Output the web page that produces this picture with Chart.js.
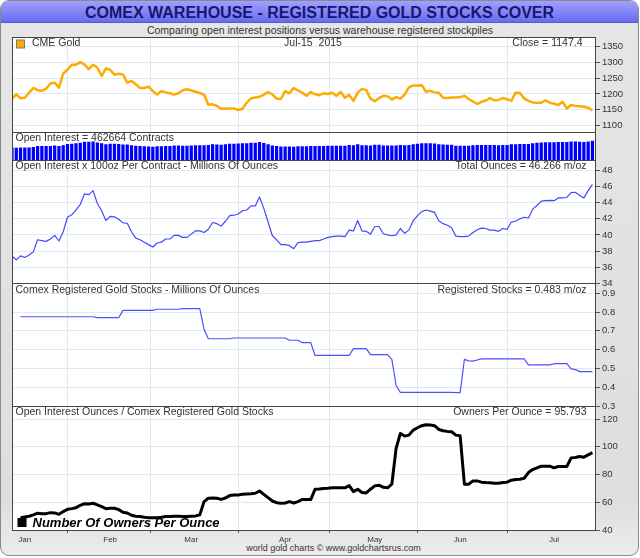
<!DOCTYPE html>
<html>
<head>
<meta charset="utf-8">
<script src="https://cdn.jsdelivr.net/npm/chart.js@4.4.1/dist/chart.umd.min.js"></script>
<style>
  body { margin: 0; background: #fff; font-family: "Liberation Sans", Arial, sans-serif; }
  #frame {
    position: absolute; left: 0; top: 0; width: 637px; height: 554px;
    border: 1px solid #8a8a8a; border-radius: 9px; overflow: hidden;
    background: linear-gradient(#e6e6e6, #dedede 90%, #ececec);
  }
  #title {
    position: absolute; left: 0; top: 0; width: 100%; height: 21px;
    background: linear-gradient(#a0a0ff, #6a6af2);
    border-bottom: 1px solid #5a5acc;
    color: #17176c; font-weight: bold; font-size: 16px; line-height: 23px; text-align: center;
  }
  #subtitle {
    position: absolute; left: 0; top: 24px; width: 640px; text-align: center;
    font-size: 10.5px; line-height: 12px; color: #333;
  }
  #footer {
    position: absolute; left: 0; top: 542px; width: 667px; text-align: center;
    font-size: 9px; line-height: 12px; color: #333;
  }
  canvas { position: absolute; left: 0; top: 0; }
</style>
</head>
<body>
<div id="frame"><div id="title">COMEX WAREHOUSE - REGISTERED GOLD STOCKS COVER</div></div>
<div id="subtitle">Comparing open interest positions versus warehouse registered stockpiles</div>
<div id="footer">world gold charts © www.goldchartsrus.com</div>
<canvas id="myChart" width="640" height="558"></canvas>
<script>
// trading sessions, Dec 29 2014 - Jul 15 2015
const sessions = [
  ['Dec', [29, 30, 31]],
  ['Jan', [2, 5, 6, 7, 8, 9, 12, 13, 14, 15, 16, 20, 21, 22, 23, 26, 27, 28, 29, 30]],
  ['Feb', [2, 3, 4, 5, 6, 9, 10, 11, 12, 13, 17, 18, 19, 20, 23, 24, 25, 26, 27]],
  ['Mar', [2, 3, 4, 5, 6, 9, 10, 11, 12, 13, 16, 17, 18, 19, 20, 23, 24, 25, 26, 27, 30, 31]],
  ['Apr', [1, 2, 6, 7, 8, 9, 10, 13, 14, 15, 16, 17, 20, 21, 22, 23, 24, 27, 28, 29, 30]],
  ['May', [1, 4, 5, 6, 7, 8, 11, 12, 13, 14, 15, 18, 19, 20, 21, 22, 26, 27, 28, 29]],
  ['Jun', [1, 2, 3, 4, 5, 8, 9, 10, 11, 12, 15, 16, 17, 18, 19, 22, 23, 24, 25, 26, 29, 30]],
  ['Jul', [1, 2, 6, 7, 8, 9, 10, 13, 14, 15]]
];
const tickMonths = ['Jan', 'Feb', 'Mar', 'Apr', 'May', 'Jun', 'Jul'];

const goldClose = [
  1185, 1199, 1186, 1188, 1204, 1219, 1212, 1210, 1217, 1233,
  1236, 1220, 1265, 1277, 1293, 1293, 1301, 1293, 1279, 1293,
  1284, 1257, 1281, 1277, 1261, 1264, 1262, 1236, 1241, 1231,
  1219, 1219, 1223, 1209, 1198, 1209, 1205, 1202, 1198, 1202,
  1212, 1215, 1211, 1207, 1203, 1198, 1166, 1167, 1162, 1153,
  1153, 1154, 1154, 1149, 1153, 1172, 1186, 1189, 1191, 1198,
  1206, 1199, 1185, 1184, 1209, 1202, 1219, 1211, 1204, 1194,
  1206, 1199, 1196, 1202, 1200, 1204, 1194, 1206, 1188, 1197,
  1178, 1204, 1216, 1212, 1185, 1177, 1187, 1194, 1193, 1182,
  1190, 1185, 1198, 1221, 1227, 1227, 1228, 1207, 1210, 1205,
  1204, 1188, 1187, 1189, 1189, 1190, 1194, 1184, 1176, 1168,
  1175, 1179, 1187, 1180, 1181, 1187, 1183, 1178, 1204, 1203,
  1186, 1178, 1173, 1172, 1172, 1180, 1172, 1169, 1165, 1175,
  1154, 1165, 1162, 1161, 1159, 1156, 1147.4
];

// open interest x 100oz, millions of ounces (also drives the OI bars)
const totalOunces = [
  37.4, 36.9, 37.4, 37.2, 37.5, 37.9, 39.4, 39.3, 39.2, 39.5,
  39.95, 39.25, 40.4, 42.2, 42.5, 43.1, 43.8, 45.1, 45.0, 45.5,
  43.9, 43.0, 41.8, 42.3, 42.25, 41.95, 41.5, 41.45, 40.4, 39.6,
  39.4, 39.1, 38.8, 38.5, 39.0, 39.1, 39.5, 39.5, 39.95, 39.95,
  39.7, 39.7, 40.1, 40.5, 40.5, 40.3, 40.7, 41.55, 41.4, 41.1,
  41.7, 42.4, 42.45, 42.6, 43.0, 43.1, 43.6, 43.6, 44.7, 43.3,
  41.6, 39.9, 39.4, 38.8, 38.8, 38.7, 38.3, 39.05, 39.1, 39.1,
  39.2, 39.3, 39.3, 39.5, 39.7, 39.8, 39.85, 39.85, 39.8, 40.6,
  40.5, 41.8, 40.5, 40.45, 40.1, 41.05, 41.05, 40.15, 40.0, 39.9,
  40.0, 40.8, 40.2, 40.6, 41.75, 42.4, 42.9, 43.1, 42.95, 42.8,
  41.75, 41.4, 41.2, 40.9, 39.85, 39.8, 39.8, 39.85, 40.3, 40.65,
  40.85, 40.8, 40.6, 40.6, 40.45, 40.8, 40.7, 41.6, 41.7, 42.0,
  42.2, 42.1, 43.2, 43.65, 44.2, 44.25, 44.3, 44.25, 44.6, 44.6,
  44.65, 45.25, 45.3, 44.9, 44.6, 45.5, 46.27
];

const registered = [
  null, null, 0.775, 0.775, 0.775, 0.775, 0.775, 0.775, 0.775, 0.775,
  0.775, 0.775, 0.775, 0.775, 0.775, 0.775, 0.775, 0.775, 0.775, 0.775,
  0.770, 0.770, 0.770, 0.770, 0.770, 0.770, 0.809, 0.809, 0.809, 0.809,
  0.809, 0.809, 0.809, 0.809, 0.815, 0.815, 0.815, 0.815, 0.815, 0.815,
  0.818, 0.818, 0.818, 0.818, 0.818, 0.708, 0.658, 0.658, 0.658, 0.658,
  0.658, 0.658, 0.662, 0.662, 0.662, 0.662, 0.662, 0.662, 0.662, 0.662,
  0.662, 0.662, 0.662, 0.662, 0.662, 0.650, 0.650, 0.650, 0.637, 0.637,
  0.637, 0.569, 0.569, 0.569, 0.569, 0.569, 0.569, 0.569, 0.569, 0.569,
  0.605, 0.605, 0.605, 0.605, 0.573, 0.573, 0.573, 0.573, 0.573, 0.548,
  0.409, 0.372, 0.372, 0.372, 0.372, 0.372, 0.372, 0.372, 0.372, 0.372,
  0.372, 0.372, 0.372, 0.372, 0.371, 0.371, 0.548, 0.540, 0.539, 0.545,
  0.551, 0.551, 0.551, 0.551, 0.551, 0.551, 0.551, 0.551, 0.551, 0.551,
  0.551, 0.519, 0.519, 0.519, 0.519, 0.519, 0.519, 0.525, 0.525, 0.525,
  0.525, 0.498, 0.494, 0.483, 0.483, 0.483, 0.483
];

const ownersPerOunce = [
  null, null, 48.9, 49.4, 49.9, 50.9, 52.1, 51.8, 51.8, 52.5,
  52.3, 51.3, 53.3, 54.9, 55.4, 56.1, 57.8, 59.0, 58.8, 59.3,
  58.1, 56.9, 55.4, 55.7, 55.7, 54.7, 52.8, 52.3, 50.6, 49.9,
  49.7, 49.2, 48.9, 48.9, 48.9, 49.2, 49.7, 49.7, 49.9, 49.9,
  49.7, 49.7, 49.9, 50.1, 50.9, 60.5, 62.9, 63.1, 62.9, 62.1,
  63.1, 64.8, 65.3, 65.3, 65.7, 66.0, 66.2, 66.5, 68.1, 65.7,
  63.3, 60.9, 59.7, 59.3, 59.5, 60.5, 59.5, 60.5, 62.0, 62.0,
  61.9, 69.4, 69.6, 69.9, 70.1, 70.4, 70.4, 70.4, 70.4, 72.0,
  67.7, 69.4, 67.0, 66.7, 69.4, 71.8, 72.3, 70.8, 70.4, 73.0,
  98.8, 109.6, 107.7, 108.4, 112.0, 113.7, 115.2, 115.9, 115.7, 115.2,
  112.5, 111.6, 111.1, 110.8, 108.4, 108.0, 73.0, 73.0, 75.4, 75.4,
  74.5, 74.2, 74.0, 73.7, 73.7, 74.2, 74.5, 75.9, 76.4, 76.6,
  77.3, 81.4, 83.6, 84.8, 86.0, 86.0, 86.0, 84.8, 85.8, 85.8,
  85.8, 92.0, 92.3, 93.0, 92.5, 94.2, 95.79
];

const goldTicks = [1100, 1150, 1200, 1250, 1300, 1350];
const ounceTicks = [34, 36, 38, 40, 42, 44, 46, 48];
const stockTicks = [0.3, 0.4, 0.5, 0.6, 0.7, 0.8, 0.9];
const ownerTicks = [40, 60, 80, 100, 120];

// texts written inside each panel: [left, centre, right]
const panelText = {
  yGold: ['CME Gold', 'Jul-15  2015', 'Close = 1147.4'],
  yOI: ['Open Interest = 462664 Contracts', '', ''],
  yOz: ['Open Interest x 100oz Per Contract - Millions Of Ounces', '', 'Total Ounces = 46.266 m/oz'],
  yReg: ['Comex Registered Gold Stocks - Millions Of Ounces', '', 'Registered Stocks = 0.483 m/oz'],
  yOwn: ['Open Interest Ounces / Comex Registered Gold Stocks', '', 'Owners Per Ounce = 95.793']
};

const labels = sessions.flatMap(([m, days]) => days.map(d => m + ' ' + d));
const monthStarts = tickMonths.map(m => labels.findIndex(l => l.startsWith(m + ' ')));
const pts = arr => arr.map((v, i) => ({ x: i, y: v }));

const FONT = '"Liberation Sans", Arial, sans-serif';
const GRID = '#dceaf6';

const panelsPlugin = {
  id: 'panels',
  beforeDraw(chart) {
    const { ctx, chartArea: a } = chart;
    ctx.save();
    ctx.fillStyle = '#fff';
    ctx.fillRect(a.left, a.top, a.right - a.left, a.bottom - a.top);
    ctx.restore();
  },
  afterDraw(chart) {
    const { ctx, chartArea: a } = chart;
    ctx.save();
    ctx.strokeStyle = '#444';
    ctx.lineWidth = 1;
    Object.keys(panelText).forEach(id => {
      const s = chart.scales[id];
      ctx.strokeRect(Math.round(a.left) + 0.5, Math.round(s.top) + 0.5,
        Math.round(a.right - a.left), Math.round(s.bottom - s.top));
    });

    ctx.font = '10.5px ' + FONT;
    ctx.fillStyle = '#333';
    ctx.textBaseline = 'middle';
    Object.keys(panelText).forEach(id => {
      const s = chart.scales[id];
      const t = panelText[id];
      const y = s.top + 6.5;
      const x0 = id === 'yGold' ? a.left + 20 : a.left + 3.5;
      ctx.textAlign = 'left';
      ctx.fillText(t[0], x0, y);
      ctx.textAlign = 'center';
      if (t[1]) ctx.fillText(t[1], a.left + 301, y);
      ctx.textAlign = 'right';
      if (t[2]) ctx.fillText(t[2], a.right - (id === 'yGold' ? 12.5 : 8.5), y);
    });

    // legend key of the gold panel
    const g = chart.scales.yGold;
    ctx.fillStyle = '#ffaa00';
    ctx.strokeStyle = '#777';
    ctx.fillRect(a.left + 4.5, g.top + 3, 8, 8);
    ctx.strokeRect(a.left + 4.5, g.top + 3, 8, 8);

    // legend key of the owners panel
    const o = chart.scales.yOwn;
    ctx.fillStyle = '#000';
    ctx.fillRect(a.left + 5.5, o.bottom - 12, 9, 9);
    ctx.font = 'italic bold 13px ' + FONT;
    ctx.textAlign = 'left';
    ctx.textBaseline = 'alphabetic';
    ctx.fillText('Number Of Owners Per Ounce', a.left + 20.5, o.bottom - 3.5);
    ctx.restore();
  }
};

function rightAxis(min, max, weight, order, tickList) {
  return {
    type: 'linear',
    position: 'right',
    stack: 'panels',
    stackWeight: weight,
    weight: order,
    min: min,
    max: max,
    afterBuildTicks: s => { s.ticks = tickList.map(v => ({ value: v })); },
    afterFit: s => { s.width = 45; },
    grid: { color: GRID, tickLength: 5, tickColor: '#555' },
    border: { display: true, color: '#444' },
    ticks: {
      autoSkip: false, padding: 2, color: '#333',
      font: { family: FONT, size: 9.5 },
      callback: v => v
    }
  };
}

const ctx = document.getElementById('myChart');

const grafica = new Chart(ctx, {
  type: 'line',
  data: {
    datasets: [
      { label: 'CME Gold', data: pts(goldClose), yAxisID: 'yGold',
        borderColor: '#ffaa00', borderWidth: 2.5 },
      { type: 'bar', label: 'Open Interest', data: pts(totalOunces), yAxisID: 'yOI',
        backgroundColor: '#0000ff', barThickness: 2.6 },
      { label: 'Total Ounces', data: pts(totalOunces), yAxisID: 'yOz',
        borderColor: '#4646ff', borderWidth: 1.2 },
      { label: 'Registered Stocks', data: pts(registered), yAxisID: 'yReg',
        borderColor: '#4f4fff', borderWidth: 1.2 },
      { label: 'Number Of Owners Per Ounce', data: pts(ownersPerOunce), yAxisID: 'yOwn',
        borderColor: '#000', borderWidth: 3 }
    ]
  },
  options: {
    responsive: false,
    animation: false,
    layout: { padding: { left: 12, top: 37, right: 0, bottom: 0 } },
    elements: { point: { radius: 0 }, line: { tension: 0, borderJoinStyle: 'round' } },
    plugins: { legend: { display: false }, tooltip: { enabled: false } },
    scales: {
      x: {
        type: 'linear',
        bounds: 'data',
        min: 0,
        max: 136.6,
        offset: false,
        afterBuildTicks: s => { s.ticks = monthStarts.map(i => ({ value: i })); },
        afterFit: s => { s.height = 28; },
        grid: { color: GRID, tickLength: 3, tickColor: '#555' },
        border: { display: true, color: '#444' },
        ticks: {
          autoSkip: false, maxRotation: 0, padding: 2, color: '#333',
          font: { family: FONT, size: 8 },
          callback: v => labels[v].split(' ')[0]
        }
      },
      yGold: rightAxis(1080, 1381, 94.7, 1, goldTicks),
      yOI: Object.assign(rightAxis(21, 59, 28.3, 2, []), {
        grid: { display: false },
        ticks: { display: false }
      }),
      yOz: rightAxis(34, 49.3, 123.3, 3, ounceTicks),
      yReg: rightAxis(0.3, 0.953, 122.7, 4, stockTicks),
      yOwn: rightAxis(40, 129.4, 124, 5, ownerTicks)
    }
  },
  plugins: [panelsPlugin]
});
</script>
</body>
</html>
